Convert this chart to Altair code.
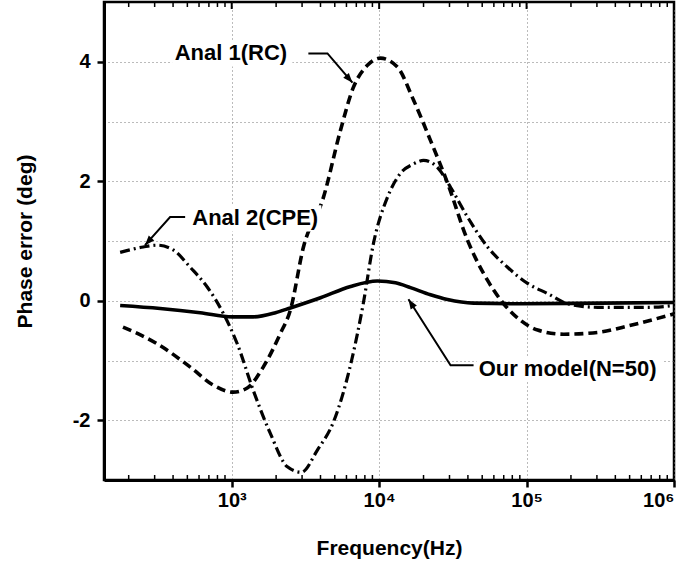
import altair as alt
import pandas as pd

# ---------------- data ----------------
# Our model (N=50) – solid
model_f = [175, 327, 611, 1006, 1400, 1980, 2500, 4000, 6400, 9730, 12900, 16300, 22300, 29100, 43700, 91200, 318000, 1000000]
model_v = [-0.08, -0.13, -0.20, -0.27, -0.27, -0.20, -0.12, 0.05, 0.24, 0.33, 0.30, 0.22, 0.10, 0.02, -0.04, -0.05, -0.04, -0.03]

# Anal 1 (RC) – dashed
rc_f = [183, 312, 523, 748, 1024, 1274, 1636, 2135, 2496, 3060, 4188, 5462, 6685, 8318, 10200,
        13310, 17100, 22320, 29110, 39800, 54400, 69900, 91200, 118900, 178600, 304000, 509000, 1000000]
rc_v = [-0.44, -0.72, -1.11, -1.41, -1.53, -1.46, -1.11, -0.55, -0.16, 0.89, 1.73, 2.85, 3.57, 3.94, 4.06,
        3.91, 3.36, 2.68, 1.97, 1.01, 0.34, -0.05, -0.33, -0.49, -0.56, -0.53, -0.41, -0.22]

# Anal 2 (CPE) – dash-dot
cpe_f = [175, 251, 312, 401, 523, 682, 876, 1090, 1400, 1827, 2385, 2966, 3810, 4950, 6500, 7800,
         9150, 11380, 13930, 17100, 20000, 24900, 30500, 39800, 54400, 74300, 101600, 139000, 190000,
         304000, 665000, 1000000]
cpe_v = [0.81, 0.90, 0.93, 0.85, 0.56, 0.23, -0.21, -0.72, -1.50, -2.22, -2.78, -2.87, -2.50, -2.00, -1.00, -0.05,
         0.96, 1.73, 2.13, 2.29, 2.35, 2.23, 1.90, 1.40, 0.90, 0.56, 0.29, 0.12, -0.05,
         -0.11, -0.11, -0.08]

# axes
x_domain = [136, 1000000]
y_domain = [-3, 5]
x_major = [1000, 10000, 100000, 1000000]
x_major_labels = ["10³", "10⁴", "10⁵", "10⁶"]
y_grid = [-2, -1, 0, 1, 2, 3, 4]
x_minor = [m * 10 ** k for k in (2, 3, 4, 5) for m in range(2, 10) if m * 10 ** k >= 136]

# annotations
ann_text = ["Anal 1(RC)", "Anal 2(CPE)", "Our model(N=50)"]
ann_f = [410, 540, 47300]
ann_v = [4.14, 1.38, -1.15]
box_f1 = [394, 514, 45800]
box_f2 = [2577, 4055, 841000]
box_v1 = [3.92, 1.16, -1.36]
box_v2 = [4.36, 1.60, -0.93]
# leader polylines: start (near text), elbow, arrow tip
lead_f = [[3310, 4460, 6590], [483, 382, 258], [43700, 30500, 15800]]
lead_v = [[4.14, 4.14, 3.65], [1.40, 1.40, 0.93], [-1.08, -1.08, 0.025]]
arrow_angle = [139, 222, 327]

FONT = "Liberation Sans, Arial, Helvetica, sans-serif"
W, H = 570, 478

xs = alt.Scale(type="log", domain=x_domain, nice=False)
ys = alt.Scale(domain=y_domain, nice=False, zero=False)

label_map = "{" + ",".join(f"'{v}':'{l}'" for v, l in zip(x_major, x_major_labels)) + "}"

x_axis = alt.Axis(
    values=x_major, title="Frequency(Hz)", labelExpr=f"{label_map}[datum.value + '']",
    grid=True, gridDash=[1, 3], gridColor="#777777", gridWidth=1,
    tickSize=7, labelPadding=3, labelFontSize=20, titleFontSize=21,
    titleX=W / 2, titleY=68, titleBaseline="middle", titleAlign="center",
)
y_axis = alt.Axis(
    values=y_grid, title="Phase error (deg)",
    labelExpr="datum.value % 2 === 0 ? '' + datum.value : ''",
    tickOpacity=alt.condition("datum.value % 2 !== 0", alt.value(0), alt.value(1)),
    grid=True, gridDash=[1, 3], gridColor="#777777", gridWidth=1,
    tickSize=7, labelPadding=7, labelFontSize=20, titleFontSize=21,
    titleX=-79, titleY=H / 2, titleBaseline="middle", titleAlign="center", titleAngle=270,
)

def line_df(f, v):
    return pd.DataFrame({"f": f, "v": v})

base_x = alt.X("f:Q", scale=xs, axis=x_axis)
base_y = alt.Y("v:Q", scale=ys, axis=y_axis)

rc = alt.Chart(line_df(rc_f, rc_v)).mark_line(
    color="black", strokeWidth=3.6, strokeDash=[9, 5], interpolate="monotone"
).encode(x=base_x, y=base_y)

cpe = alt.Chart(line_df(cpe_f, cpe_v)).mark_line(
    color="black", strokeWidth=3.2, strokeDash=[10, 4, 2, 4], interpolate="monotone"
).encode(x=alt.X("f:Q", scale=xs), y=alt.Y("v:Q", scale=ys))

model = alt.Chart(line_df(model_f, model_v)).mark_line(
    color="black", strokeWidth=3.6, interpolate="monotone"
).encode(x=alt.X("f:Q", scale=xs), y=alt.Y("v:Q", scale=ys))

# minor ticks (bottom and top, inward)
minor_df = pd.DataFrame({"f": x_minor})
minor_bottom = alt.Chart(minor_df).mark_rule(color="black", strokeWidth=1.5).encode(
    x=alt.X("f:Q", scale=xs), y=alt.value(H), y2=alt.value(H - 5))
minor_top = alt.Chart(minor_df).mark_rule(color="black", strokeWidth=1.5).encode(
    x=alt.X("f:Q", scale=xs), y=alt.value(0), y2=alt.value(5))
major_top = alt.Chart(pd.DataFrame({"f": x_major})).mark_rule(color="black", strokeWidth=2).encode(
    x=alt.X("f:Q", scale=xs), y=alt.value(0), y2=alt.value(7))

ann_df = pd.DataFrame({"t": ann_text, "f": ann_f, "v": ann_v,
                       "f1": box_f1, "f2": box_f2, "v1": box_v1, "v2": box_v2})
boxes = alt.Chart(ann_df).mark_rect(color="white").encode(
    x=alt.X("f1:Q", scale=xs), x2="f2:Q", y=alt.Y("v1:Q", scale=ys), y2="v2:Q")
texts = alt.Chart(ann_df).mark_text(
    align="left", baseline="middle", font=FONT, fontSize=22, fontWeight="bold", color="black"
).encode(x=alt.X("f:Q", scale=xs), y=alt.Y("v:Q", scale=ys), text="t:N")

lead_rows = []
for i, (fs, vs) in enumerate(zip(lead_f, lead_v)):
    for j, (ff, vv) in enumerate(zip(fs, vs)):
        lead_rows.append({"g": i, "o": j, "f": ff, "v": vv})
lead_df = pd.DataFrame(lead_rows)
leaders = alt.Chart(lead_df).mark_line(color="black", strokeWidth=2).encode(
    x=alt.X("f:Q", scale=xs), y=alt.Y("v:Q", scale=ys), detail="g:N", order="o:Q")

tip_df = pd.DataFrame({"f": [l[-1] for l in lead_f], "v": [l[-1] for l in lead_v], "a": arrow_angle})
tips = alt.Chart(tip_df).mark_point(
    shape="M0,0 L0.38,1 L-0.38,1 Z", filled=True, color="black", opacity=1, size=380
).encode(x=alt.X("f:Q", scale=xs), y=alt.Y("v:Q", scale=ys), angle=alt.Angle("a:Q", scale=None))

chart = alt.layer(
    rc, cpe, model, minor_bottom, minor_top, major_top, boxes, texts, leaders, tips
).properties(
    width=W, height=H,
    autosize=alt.AutoSizeParams(type="none"),
    padding={"left": 104, "top": 2, "right": 16, "bottom": 85},
    background="white",
).configure_view(
    stroke="black", strokeWidth=2.5
).configure_axis(
    labelFont=FONT, titleFont=FONT, labelFontWeight="bold", titleFontWeight="bold",
    labelColor="black", titleColor="black", domainColor="black", domainWidth=3,
    tickColor="black", tickWidth=2.5,
)

chart.save("out.html", embed_options={"renderer": "svg", "actions": False})
